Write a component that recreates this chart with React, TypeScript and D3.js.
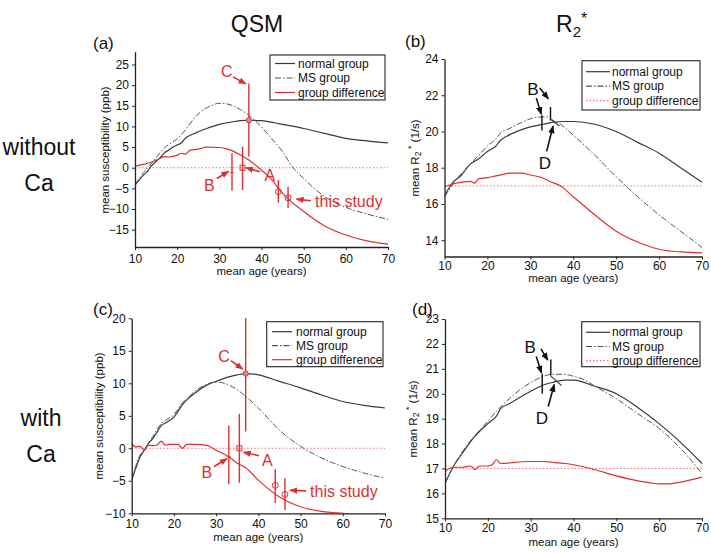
import React, { useEffect, useRef } from "react";
import * as d3 from "d3";

const FONT = "'Liberation Sans', Arial, Helvetica, sans-serif";
const RED = "#dc3030";
const PALE_RED = "#f07a7a";
const DARK = "#3a3a3a";

// ---------- shared ----------
const ageTicks = [10, 20, 30, 40, 50, 60, 70];

// ---------- (a) QSM without Ca ----------
const aNormalAge = [10, 11, 12, 13, 14, 15, 16, 17, 18, 19, 20, 21, 22, 23, 25, 27, 30, 33, 35, 37, 40, 43, 45, 50, 55, 60, 65, 70];
const aNormalVal = [-4.2, -3.0, -1.8, -0.8, 0.6, 1.5, 2.5, 3.6, 4.3, 5.0, 5.5, 6.0, 7.2, 7.8, 8.7, 9.5, 10.5, 11.1, 11.4, 11.5, 11.4, 10.9, 10.5, 9.5, 8.3, 7.1, 6.5, 6.0];
const aMSAge = [10, 12, 13, 15, 17, 18, 20, 22, 23, 25, 28, 30, 32, 35, 37, 40, 42, 45, 47.5, 50, 55, 60, 65, 70];
const aMSVal = [-4.1, -1.2, 0.0, 2.4, 4.8, 5.6, 7.0, 9.2, 10.6, 13.0, 15.0, 15.6, 15.4, 14.1, 12.7, 9.9, 7.5, 3.9, 0.0, -2.6, -7.0, -9.6, -11.2, -12.5];
const aDiffAge = [10, 12, 14, 15, 16, 17, 18, 19, 20, 21, 22, 23, 25, 27, 30, 32, 35, 37, 40, 42, 45, 50, 55, 60, 65, 70];
const aDiffVal = [0.4, 0.8, 1.4, 1.8, 2.3, 2.7, 2.6, 2.8, 3.0, 3.5, 3.3, 4.2, 4.5, 5.0, 4.9, 4.5, 3.1, 1.9, -0.6, -2.4, -6.2, -10.6, -14.1, -16.3, -17.7, -18.5];
const aStudyAge = [33, 35.5, 37, 44, 46.3];
const aStudyVal = [-1.2, 0.0, 11.5, -5.8, -7.3];
const aStudyLo = [-5.6, -5.4, 2.7, -8.5, -9.8];
const aStudyHi = [3.5, 5.1, 20.4, -3.0, -4.6];
const studyMarkers = ["tick", "square", "dot", "circle", "circle"];
const aYTicks = [-15, -10, -5, 0, 5, 10, 15, 20, 25];

// ---------- (c) QSM with Ca ----------
const cNormalAge = [10, 11, 12, 13, 14, 15, 16, 17, 18, 20, 22, 23, 25, 28, 30, 33, 35, 37, 40, 45, 50, 55, 60, 65, 70];
const cNormalVal = [-4.9, -3.0, -1.3, -0.3, 0.8, 1.5, 2.5, 3.5, 3.9, 4.8, 6.7, 7.4, 8.5, 9.8, 10.3, 11.0, 11.3, 11.5, 11.3, 10.3, 9.3, 8.2, 7.2, 6.6, 6.2];
const cMSAge = [10, 12, 13, 15, 17, 18, 20, 22, 23, 25, 28, 30, 32, 35, 37, 40, 45, 50, 55, 60, 65, 70];
const cMSVal = [-4.9, -1.0, -0.2, 1.8, 3.8, 4.3, 5.2, 7.0, 7.6, 8.8, 9.9, 10.2, 10.0, 9.0, 8.0, 6.2, 2.8, 0.3, -1.5, -2.8, -3.8, -4.6];
const cDiffAge = [10, 11, 12, 13, 14, 15, 16, 17, 18, 19, 20, 21, 22, 23, 25, 28, 30, 33, 35, 37, 40, 45, 50, 55, 60, 62];
const cDiffVal = [0.7, 0.2, 0.3, -0.3, 0.5, 0.4, 0.5, 1.1, 0.5, 0.6, 0.6, 0.6, 0.0, 0.6, 0.6, 0.4, -0.3, -1.3, -2.3, -3.0, -4.9, -7.5, -9.0, -9.7, -10.0, -10.1];
const cStudyAge = [33, 35.5, 37, 44, 46.3];
const cStudyVal = [-1.3, 0.0, 11.5, -5.7, -7.1];
const cStudyLo = [-5.5, -5.3, 2.6, -8.4, -9.5];
const cStudyHi = [3.5, 5.3, 20.5, -3.2, -4.6];
const cYTicks = [-10, -5, 0, 5, 10, 15, 20];

// ---------- (b) R2* without Ca ----------
const bNormalAge = [10, 12, 14, 16, 17, 18, 20, 22, 23, 25, 28, 30, 33, 35, 38, 40, 45, 50, 55, 60, 65, 70];
const bNormalVal = [16.45, 17.2, 17.6, 18.2, 18.35, 18.5, 18.9, 19.2, 19.5, 19.8, 20.1, 20.25, 20.4, 20.5, 20.55, 20.55, 20.4, 20.0, 19.4, 18.8, 18.0, 17.2];
const bMSAge = [10, 12, 14, 16, 18, 20, 22, 23, 25, 28, 30, 32, 34, 35, 37, 40, 45, 50, 55, 60, 65, 70];
const bMSVal = [16.4, 17.1, 17.7, 18.2, 18.7, 19.2, 19.6, 19.9, 20.15, 20.5, 20.7, 20.8, 20.8, 20.65, 20.4, 19.8, 18.7, 17.5, 16.4, 15.4, 14.5, 13.6];
const bDiffAge = [10, 12, 14, 16, 17, 18, 20, 22, 24, 25, 28, 30, 32, 35, 37, 40, 45, 50, 55, 60, 65, 70];
const bDiffVal = [16.95, 17.1, 17.2, 17.25, 17.15, 17.4, 17.45, 17.55, 17.65, 17.7, 17.7, 17.6, 17.5, 17.2, 17.0, 16.4, 15.4, 14.5, 13.9, 13.5, 13.35, 13.3];
const bBarAge = [32.7, 34.7];
const bBarLo = [20.05, 20.6];
const bBarHi = [20.9, 21.35];
const bSegAge = [34.6, 36.8];
const bSegVal = [20.7, 20.3];
const bYTicks = [14, 16, 18, 20, 22, 24];

// ---------- (d) R2* with Ca ----------
const dNormalAge = [10, 12, 14, 15, 17, 20, 22, 23, 25, 30, 33, 35, 38, 40, 45, 50, 55, 60, 65, 70];
const dNormalVal = [16.4, 17.1, 17.6, 17.85, 18.3, 18.8, 19.1, 19.4, 19.6, 20.1, 20.35, 20.45, 20.55, 20.55, 20.3, 20.0, 19.45, 18.8, 18.05, 17.2];
const dMSAge = [10, 12, 15, 20, 22, 25, 30, 33, 35, 38, 40, 42, 45, 50, 55, 60, 65, 70];
const dMSVal = [16.4, 17.1, 17.9, 18.9, 19.3, 19.8, 20.45, 20.7, 20.78, 20.78, 20.7, 20.6, 20.3, 19.8, 19.2, 18.6, 17.8, 16.8];
const dDiffAge = [10, 11, 12, 14, 16, 17, 18, 20, 21, 22, 23, 25, 28, 30, 33, 35, 38, 40, 45, 50, 55, 58, 60, 62, 65, 70];
const dDiffVal = [16.9, 17.0, 17.05, 17.05, 17.1, 16.95, 17.1, 17.1, 17.15, 17.35, 17.2, 17.22, 17.27, 17.28, 17.28, 17.25, 17.2, 17.15, 16.95, 16.7, 16.5, 16.42, 16.38, 16.38, 16.45, 16.65];
const dBarAge = [32.7, 34.7];
const dBarLo = [20.0, 20.73];
const dBarHi = [20.8, 21.37];
const dSegAge = [34.6, 37.2];
const dSegVal = [20.73, 20.33];
const dYTicks = [15, 16, 17, 18, 19, 20, 21, 22, 23];

const legendLabels = ["normal group", "MS group", "group difference"];

type Pt = [number, number];
const zip = (a: number[], b: number[]): Pt[] => a.map((v, i) => [v, b[i]]);

interface Ann {
  text: string;
  at: Pt;
  anchor: "middle" | "start";
  arrow: [Pt, Pt];
}

interface PanelProps {
  id: string;
  left: number; right: number; top: number; bottom: number;
  yDomain: [number, number];
  yTicks: number[];
  normal: Pt[]; ms: Pt[]; diff: Pt[];
  refValue: number;
  color: string;
  bars: { x: number; y?: number; lo: number; hi: number; marker?: string }[];
  segment?: [Pt, Pt];
  anns: Ann[];
  annSize: number;
  legend: { x: number; y: number; w: number; h: number; off: number; gap: number; sx0: number; sx1: number; tx: number; dotted: boolean };
  tag: string; tagPos: Pt;
  yLabel: "qsm" | "r2"; yLabelPos: Pt;
  xLabelY: number;
  xPad: number;
}

function Panel(p: PanelProps) {
  const x = d3.scaleLinear().domain([10, 70]).range([p.left, p.right]);
  const y = d3.scaleLinear().domain(p.yDomain).range([p.bottom, p.top]);
  const gx = useRef<SVGGElement>(null);
  const gy = useRef<SVGGElement>(null);

  useEffect(() => {
    const ax = d3.select(gx.current!);
    ax.call(d3.axisBottom(x).tickValues(ageTicks).tickSize(3).tickPadding(p.xPad).tickSizeOuter(0).tickFormat(d3.format("d")) as any);
    const ay = d3.select(gy.current!);
    ay.call(d3.axisLeft(y).tickValues(p.yTicks).tickSize(3).tickPadding(3).tickSizeOuter(0).tickFormat(d3.format("d")) as any);
    [ax, ay].forEach((g) => {
      g.attr("font-size", 12).attr("font-family", FONT);
      g.select(".domain").attr("stroke", "#222").attr("stroke-width", 1.3);
      g.selectAll(".tick line").attr("stroke", "#222");
      g.selectAll(".tick text").attr("fill", "#111");
    });
  });

  const line = d3.line<Pt>().x((d) => x(d[0])).y((d) => y(d[1])).curve(d3.curveMonotoneX);
  const L = p.legend;
  const arrowId = `arr-${p.id}`;

  return (
    <g>
      <defs>
        <clipPath id={`clip-${p.id}`}>
          <rect x={p.left} y={p.top} width={p.right - p.left + 2} height={p.bottom - p.top} />
        </clipPath>
        <marker id={arrowId} viewBox="0 0 10 8" refX="9" refY="4" markerWidth="8" markerHeight="6.5" markerUnits="userSpaceOnUse" orient="auto">
          <path d="M0,0 L10,4 L0,8 z" fill={p.color} />
        </marker>
      </defs>
      <g clipPath={`url(#clip-${p.id})`}>
        <line x1={x(10)} x2={x(70)} y1={y(p.refValue)} y2={y(p.refValue)} stroke={PALE_RED} strokeWidth={1} strokeDasharray="1.5,2" />
        <path d={line(p.normal)!} fill="none" stroke={DARK} strokeWidth={1.2} />
        <path d={line(p.ms)!} fill="none" stroke="#555" strokeWidth={1} strokeDasharray="6,2,1.5,2" />
        <path d={line(p.diff)!} fill="none" stroke={RED} strokeWidth={1.2} />
        {p.bars.map((b, i) => (
          <g key={i}>
            <line x1={x(b.x)} x2={x(b.x)} y1={y(b.lo)} y2={y(b.hi)} stroke={p.color} strokeWidth={1.4} />
            {b.marker === "circle" && b.y !== undefined && <circle cx={x(b.x)} cy={y(b.y)} r={3} fill="none" stroke={p.color} strokeWidth={1} />}
            {b.marker === "dot" && b.y !== undefined && <circle cx={x(b.x)} cy={y(b.y)} r={2.6} fill="#e88" stroke={p.color} strokeWidth={1} />}
            {b.marker === "square" && b.y !== undefined && <rect x={x(b.x) - 2.5} y={y(b.y) - 2.5} width={5} height={5} fill="none" stroke={p.color} strokeWidth={1} />}
            {b.marker === "tick" && b.y !== undefined && <line x1={x(b.x) - 2} x2={x(b.x) + 2} y1={y(b.y)} y2={y(b.y)} stroke={p.color} strokeWidth={1} />}
          </g>
        ))}
        {p.segment && (
          <line x1={x(p.segment[0][0])} y1={y(p.segment[0][1])} x2={x(p.segment[1][0])} y2={y(p.segment[1][1])} stroke={DARK} strokeWidth={1.1} />
        )}
      </g>
      <g ref={gx} transform={`translate(0,${p.bottom})`} />
      <g ref={gy} transform={`translate(${p.left},0)`} />
      {p.anns.map((a, i) => (
        <g key={i}>
          <line x1={x(a.arrow[0][0])} y1={y(a.arrow[0][1])} x2={x(a.arrow[1][0])} y2={y(a.arrow[1][1])} stroke={p.color} strokeWidth={1.6} markerEnd={`url(#${arrowId})`} />
          {a.text && (
            <text x={x(a.at[0])} y={y(a.at[1])} textAnchor={a.anchor} dominantBaseline="central" fill={p.color} fontSize={p.annSize} fontFamily={FONT}>{a.text}</text>
          )}
        </g>
      ))}
      <rect x={L.x} y={L.y} width={L.w} height={L.h} fill="#fff" stroke="#222" strokeWidth={1.1} />
      {legendLabels.map((lab, i) => {
        const ry = L.y + L.off + i * L.gap;
        const stroke = i === 0 ? DARK : i === 1 ? "#555" : L.dotted ? PALE_RED : RED;
        const dash = i === 1 ? "6,2,1.5,2" : i === 2 && L.dotted ? "1.5,2" : undefined;
        return (
          <g key={lab}>
            <line x1={L.sx0} x2={L.sx1} y1={ry} y2={ry} stroke={stroke} strokeWidth={1.2} strokeDasharray={dash} />
            <text x={L.tx} y={ry} dominantBaseline="central" fontSize={12} fontFamily={FONT} fill="#111">{lab}</text>
          </g>
        );
      })}
      <text x={p.tagPos[0]} y={p.tagPos[1]} fontSize={17} fontFamily={FONT} fill="#111">{p.tag}</text>
      <text x={(p.left + p.right) / 2} y={p.xLabelY} textAnchor="middle" fontSize={11.5} fontFamily={FONT} fill="#111">mean age (years)</text>
      <text transform={`translate(${p.yLabelPos[0]},${p.yLabelPos[1]}) rotate(-90)`} textAnchor="middle" dominantBaseline="central" fontSize={11.5} fontFamily={FONT} fill="#111">
        {p.yLabel === "qsm" ? (
          "mean susceptibility (ppb)"
        ) : (
          <>
            mean R<tspan fontSize={8.5} dy={3}>2</tspan>
            <tspan fontSize={9} dy={-7}> *</tspan>
            <tspan dy={4}> (1/s)</tspan>
          </>
        )}
      </text>
    </g>
  );
}

const mkBars = (ages: number[], vals: number[] | null, lo: number[], hi: number[], markers: string[] | null) =>
  ages.map((a, i) => ({ x: a, y: vals ? vals[i] : undefined, lo: lo[i], hi: hi[i], marker: markers ? markers[i] : undefined }));

export default function App() {
  return (
    <svg width={711} height={553} viewBox="0 0 711 553" style={{ position: "absolute", left: 0, top: 0, background: "#fff" }}>
      <rect width={711} height={553} fill="#fff" />
      <text x={257} y={32} textAnchor="middle" fontSize={23} fontFamily={FONT} fill="#111">QSM</text>
      <text x={556} y={32} fontSize={23} fontFamily={FONT} fill="#111">
        R<tspan fontSize={15} dy={5}>2</tspan><tspan fontSize={16} dy={-13}>*</tspan>
      </text>
      <text x={39} y={155} textAnchor="middle" fontSize={23} fontFamily={FONT} fill="#111">without</text>
      <text x={39} y={191} textAnchor="middle" fontSize={23} fontFamily={FONT} fill="#111">Ca</text>
      <text x={41} y={426} textAnchor="middle" fontSize={23} fontFamily={FONT} fill="#111">with</text>
      <text x={41} y={462} textAnchor="middle" fontSize={23} fontFamily={FONT} fill="#111">Ca</text>

      <Panel
        id="a" left={135} right={388} top={51.7} bottom={247} yDomain={[-19.2, 28.1]} yTicks={aYTicks}
        normal={zip(aNormalAge, aNormalVal)} ms={zip(aMSAge, aMSVal)} diff={zip(aDiffAge, aDiffVal)} refValue={0}
        color={RED} bars={mkBars(aStudyAge, aStudyVal, aStudyLo, aStudyHi, studyMarkers)}
        annSize={16}
        anns={[
          { text: "C", at: [31.75, 23.2], anchor: "middle", arrow: [[33.25, 22.0], [36.3, 20.3]] },
          { text: "B", at: [27.6, -4.2], anchor: "middle", arrow: [[29.4, -2.6], [32.2, -0.9]] },
          { text: "A", at: [42.0, -1.9], anchor: "middle", arrow: [[39.65, -1.0], [36.3, 0]] },
          { text: "this study", at: [52.7, -8.1], anchor: "start", arrow: [[51.7, -8.0], [48.3, -7.6]] },
        ]}
        legend={{ x: 270, y: 55, w: 115, h: 45, off: 8.5, gap: 14.5, sx0: 275, sx1: 295, tx: 298, dotted: false }}
        tag="(a)" tagPos={[93, 49]} yLabel="qsm" yLabelPos={[105, 150]} xLabelY={275} xPad={4}
      />
      <Panel
        id="c" left={131.7} right={385} top={318.3} bottom={513.3} yDomain={[-10, 20]} yTicks={cYTicks}
        normal={zip(cNormalAge, cNormalVal)} ms={zip(cMSAge, cMSVal)} diff={zip(cDiffAge, cDiffVal)} refValue={0}
        color={RED} bars={mkBars(cStudyAge, cStudyVal, cStudyLo, cStudyHi, studyMarkers)}
        annSize={16}
        anns={[
          { text: "C", at: [31.9, 14.1], anchor: "middle", arrow: [[33.5, 13.5], [36.3, 12.2]] },
          { text: "A", at: [42.1, -1.9], anchor: "middle", arrow: [[40.2, -1.15], [36.5, -0.6]] },
          { text: "B", at: [27.8, -3.75], anchor: "middle", arrow: [[29.5, -2.8], [32.6, -1.6]] },
          { text: "this study", at: [52.25, -6.65], anchor: "start", arrow: [[51.3, -6.55], [47.5, -6.45]] },
        ]}
        legend={{ x: 266.7, y: 321.7, w: 116.3, h: 45, off: 10, gap: 14, sx0: 272, sx1: 292, tx: 296, dotted: false }}
        tag="(c)" tagPos={[93, 315]} yLabel="qsm" yLabelPos={[99, 416]} xLabelY={541} xPad={3}
      />
      <Panel
        id="b" left={444.5} right={702} top={59} bottom={256.5} yDomain={[13.1, 24]} yTicks={bYTicks}
        normal={zip(bNormalAge, bNormalVal)} ms={zip(bMSAge, bMSVal)} diff={zip(bDiffAge, bDiffVal)} refValue={17}
        color="#111" bars={mkBars(bBarAge, null, bBarLo, bBarHi, null)} segment={[[bSegAge[0], bSegVal[0]], [bSegAge[1], bSegVal[1]]]}
        annSize={17}
        anns={[
          { text: "B", at: [30.6, 22.3], anchor: "middle", arrow: [[31.4, 21.84], [32.55, 20.95]] },
          { text: "", at: [30.6, 22.3], anchor: "middle", arrow: [[32.2, 22.4], [34.2, 21.8]] },
          { text: "D", at: [33.4, 18.25], anchor: "middle", arrow: [[33.8, 18.9], [35.3, 20.3]] },
        ]}
        legend={{ x: 582, y: 60.7, w: 118, h: 49.3, off: 11, gap: 14.5, sx0: 586, sx1: 610, tx: 612, dotted: true }}
        tag="(b)" tagPos={[405, 47]} yLabel="r2" yLabelPos={[415, 158]} xLabelY={282} xPad={2}
      />
      <Panel
        id="d" left={445} right={702} top={319} bottom={518.3} yDomain={[15, 23]} yTicks={dYTicks}
        normal={zip(dNormalAge, dNormalVal)} ms={zip(dMSAge, dMSVal)} diff={zip(dDiffAge, dDiffVal)} refValue={17}
        color="#111" bars={mkBars(dBarAge, null, dBarLo, dBarHi, null)} segment={[[dSegAge[0], dSegVal[0]], [dSegAge[1], dSegVal[1]]]}
        annSize={17}
        anns={[
          { text: "B", at: [29.9, 21.87], anchor: "middle", arrow: [[31.3, 21.5], [32.5, 20.83]] },
          { text: "", at: [29.9, 21.87], anchor: "middle", arrow: [[32.4, 21.8], [34.0, 21.35]] },
          { text: "D", at: [32.6, 19.0], anchor: "middle", arrow: [[34.1, 19.49], [35.5, 20.37]] },
        ]}
        legend={{ x: 581.7, y: 321.7, w: 118.3, h: 45, off: 10.6, gap: 14.2, sx0: 586, sx1: 610, tx: 612, dotted: true }}
        tag="(d)" tagPos={[412, 315]} yLabel="r2" yLabelPos={[413, 419]} xLabelY={546} xPad={2}
      />
    </svg>
  );
}
